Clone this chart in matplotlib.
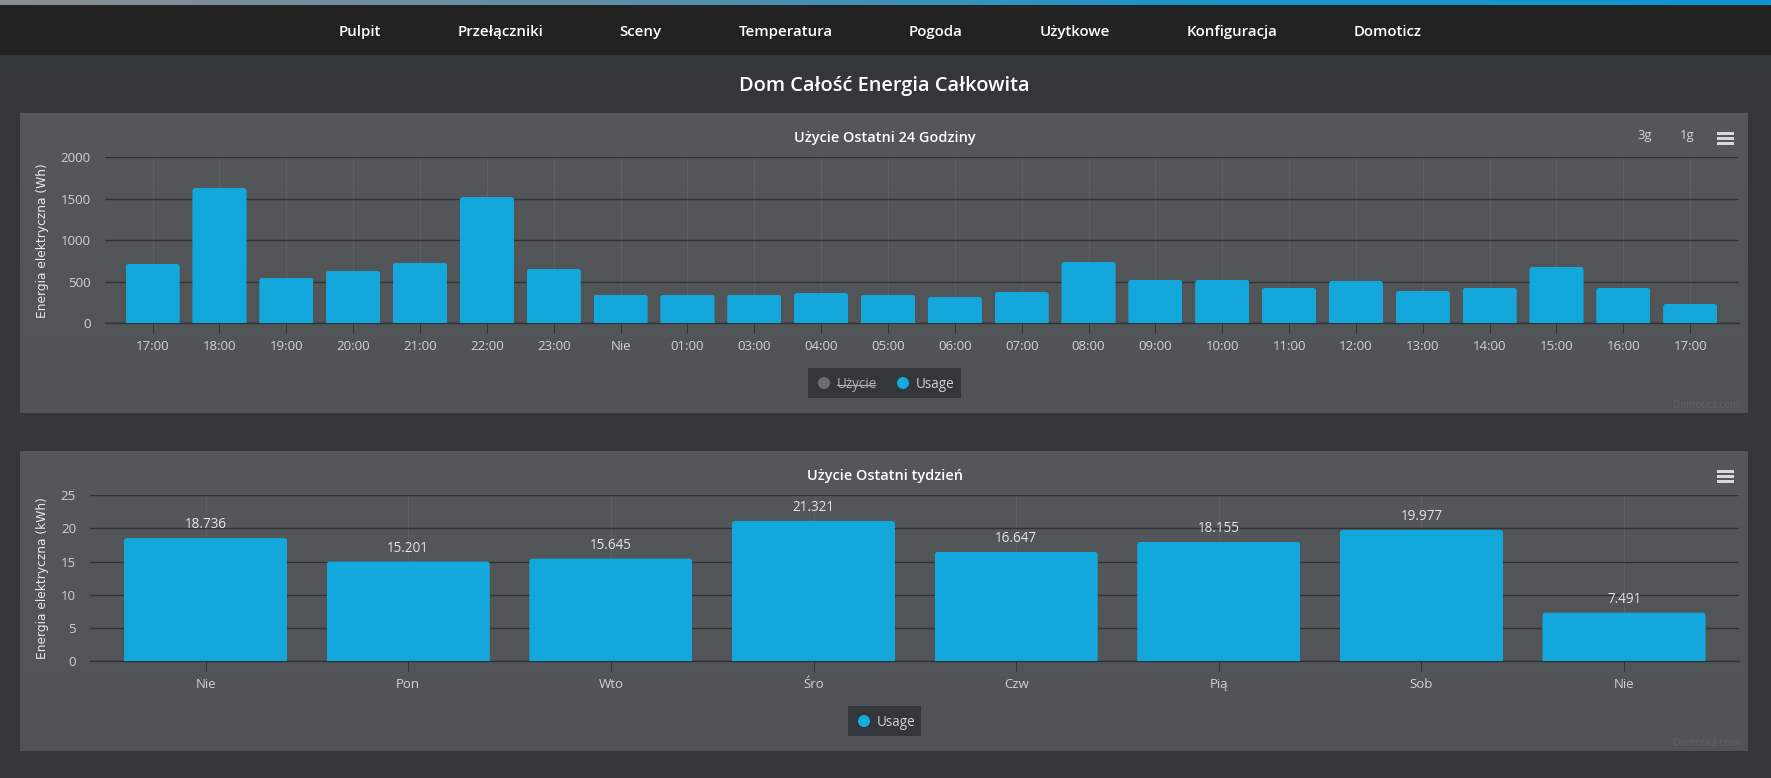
import numpy as np
import matplotlib
matplotlib.use("Agg")
import matplotlib.pyplot as plt
from matplotlib.colors import LinearSegmentedColormap
from matplotlib.patches import BoxStyle, Rectangle, Circle
from matplotlib.transforms import IdentityTransform, blended_transform_factory

plt.rcParams["font.family"] = ["Open Sans", "DejaVu Sans"]

W, H = 1771, 778

nav_items = ["Pulpit", "Przełączniki", "Sceny", "Temperatura", "Pogoda", "Użytkowe", "Konfiguracja", "Domoticz"]
nav_x = [360, 501, 640, 785.5, 936, 1075, 1232, 1388]

hours = ["17:00", "18:00", "19:00", "20:00", "21:00", "22:00", "23:00", "Nie", "01:00", "03:00", "04:00", "05:00",
         "06:00", "07:00", "08:00", "09:00", "10:00", "11:00", "12:00", "13:00", "14:00", "15:00", "16:00", "17:00"]
usage_wh = [715, 1630, 546, 634, 727, 1522, 655, 345, 345, 345, 365, 345,
            317, 377, 739, 522, 522, 426, 510, 390, 426, 679, 426, 233]

days = ["Nie", "Pon", "Wto", "Śro", "Czw", "Pią", "Sob", "Nie"]
usage_kwh = [18.736, 15.201, 15.645, 21.321, 16.647, 18.155, 19.977, 7.491]

BG = "#33373a"
NAV = "#222222"
BAR = "#11abe0"
GRID = "#2f3336"
VGRID = "#5f6265"
TICK = "#d2d2d2"


def pt(px):
    return px * 0.72


def px_axes(fig, left, top, right, bottom, **kw):
    return fig.add_axes([left / W, 1 - bottom / H, (right - left) / W, (bottom - top) / H], **kw)


def round_tops(fig, bars, top_inset=0.0):
    # small rounded corners on the top of each column, the bottom stays square
    fig.canvas.draw()
    for bar in bars:
        x0, y0, x1, y1 = bar.get_window_extent().extents
        outline = BoxStyle.Round(pad=0, rounding_size=3)(x0, y0 - 6, x1 - x0, y1 - y0 + 6 - top_inset, 1)
        bar.set_clip_path(outline, IdentityTransform())


def draw_chart(fig, box, values, labels, yticks, xlim, ylabel, width):
    ax = px_axes(fig, *box)
    ax.patch.set_alpha(0)
    bars = ax.bar(range(len(values)), values, width=width, color=BAR, alpha=0.97, zorder=3)
    ax.set_xlim(*xlim)
    ax.set_ylim(yticks[0], yticks[-1])
    ax.set_xticks(range(len(labels)))
    ax.set_xticklabels(labels)
    ax.set_yticks(yticks)
    ax.tick_params(axis="x", length=pt(10), width=0.7, color=GRID, labelcolor=TICK,
                   labelsize=pt(13.2), pad=pt(7))
    ax.tick_params(axis="y", length=0, labelcolor=TICK, labelsize=pt(13.2), pad=pt(14))
    ax.grid(axis="y", color=GRID, lw=1.0, zorder=1)
    ax.grid(axis="x", color=VGRID, lw=0.6, zorder=1)
    ax.set_axisbelow(True)
    for name in ["top", "left", "right"]:
        ax.spines[name].set_visible(False)
    ax.spines["bottom"].set_color(GRID)
    ax.spines["bottom"].set_linewidth(1.0)
    ax.set_ylabel(ylabel, family="DejaVu Sans", fontsize=pt(12.3), color="#e8e8e8")
    ax.yaxis.set_label_coords(49 / W, 0.5, transform=blended_transform_factory(fig.transFigure, ax.transAxes))
    return ax, bars


def hamburger(bg, x0, x1, y0):
    for i in range(3):
        bg.add_patch(Rectangle((x0, y0 + i * 5), x1 - x0, 3.2, color="#d8d8d8", lw=0))


def legend_entry(bg, x, y, label, color, text_color):
    bg.add_patch(Circle((x, y), 6, color=color, lw=0))
    return bg.text(x + 13, y + 1.5, label, color=text_color, fontsize=pt(13.5), va="center", ha="left")


def main():
    fig = plt.figure(figsize=(W / 100, H / 100), dpi=100, facecolor=BG)

    # page background in pixel coordinates
    bg = fig.add_axes([0, 0, 1, 1])
    bg.axis("off")

    cmap = LinearSegmentedColormap.from_list("top", ["#8a8f92", "#5f8ea6", "#1c94c8", "#0f95d0"])
    bg.imshow(np.linspace(0, 1, 256)[None, :], extent=[0, W, 5, 0], aspect="auto", cmap=cmap, zorder=1)
    bg.add_patch(Rectangle((0, 5), W, 50, color=NAV, lw=0, zorder=1))

    # panels
    panel_cmap = LinearSegmentedColormap.from_list("panel", ["#54585b", "#515457"])
    for top, bottom in [(113, 413), (451, 751)]:
        bg.imshow(np.linspace(0, 1, 64)[:, None], extent=[20, 1748, bottom, top], aspect="auto",
                  cmap=panel_cmap, zorder=0.5)
    bg.set_xlim(0, W)
    bg.set_ylim(H, 0)

    for name, x in zip(nav_items, nav_x):
        bg.text(x, 32, name, color="white", fontsize=pt(15), fontweight=600, ha="center", va="center", zorder=2)
    bg.text(884.5, 85.5, "Dom Całość Energia Całkowita", color="white", fontsize=pt(20), fontweight=600,
            ha="center", va="center")

    bg.text(885, 137.5, "Użycie Ostatni 24 Godziny", color="white", fontsize=pt(14.5), fontweight=600,
            ha="center", va="center")
    bg.text(885, 475.5, "Użycie Ostatni tydzień", color="white", fontsize=pt(14.5), fontweight=600,
            ha="center", va="center")
    bg.text(1645, 135, "3g", color=TICK, fontsize=pt(13), ha="center", va="center")
    bg.text(1687, 135, "1g", color=TICK, fontsize=pt(13), ha="center", va="center")
    hamburger(bg, 1717.5, 1734.5, 132)
    hamburger(bg, 1717.5, 1734.5, 470)

    # legends
    bg.add_patch(Rectangle((808, 368), 153, 30, color=BG, lw=0))
    legend_entry(bg, 824, 383, "Użycie", "#6a6d70", "#b0b0b0")
    bg.plot([837, 875], [385, 385], color="#b0b0b0", lw=0.8)
    legend_entry(bg, 903, 383, "Usage", BAR, TICK)
    bg.add_patch(Rectangle((848, 706), 73, 30, color=BG, lw=0))
    legend_entry(bg, 864, 721, "Usage", BAR, TICK)

    # watermark
    bg.text(1739, 405, "Domoticz.com", color="#5f6265", fontsize=pt(10), ha="right", va="center")
    bg.text(1739, 743, "Domoticz.com", color="#5f6265", fontsize=pt(10), ha="right", va="center")

    ax1, bars1 = draw_chart(fig, (104.5, 157.3, 1739, 323.3), usage_wh, hours, [0, 500, 1000, 1500, 2000],
                            (-0.72, 23.73), "Energia elektryczna (Wh)", 0.81)
    ax2, bars2 = draw_chart(fig, (90, 495.3, 1739, 661), usage_kwh, days, [0, 5, 10, 15, 20, 25],
                            (-0.5706, 7.5674), "Energia elektryczna (kWh)", 0.805)

    for i, v in enumerate(usage_kwh):
        ax2.annotate(f"{v:.3f}", (i, v), xytext=(0, pt(12)), textcoords="offset points", ha="center", va="center",
                     color="#e4e4e4", fontsize=pt(13.5), zorder=5)

    round_tops(fig, bars1)
    round_tops(fig, bars2, top_inset=1.3)

    fig.savefig("out.png", dpi=100, facecolor=BG)
    plt.close(fig)


if __name__ == "__main__":
    main()
